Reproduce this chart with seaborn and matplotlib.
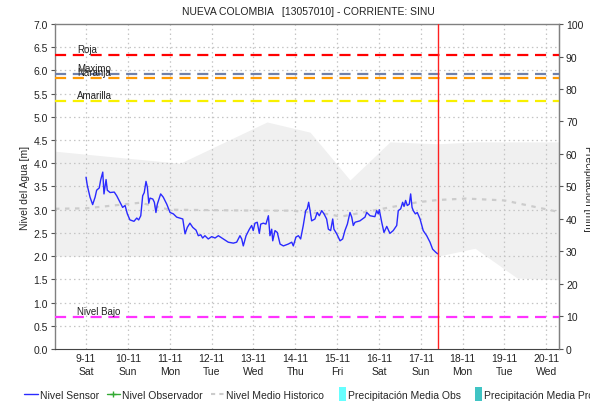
import numpy as np
import pandas as pd
import seaborn as sns
import matplotlib
matplotlib.use("Agg")
import matplotlib.pyplot as plt
from matplotlib.lines import Line2D
from matplotlib.patches import Patch, Rectangle
from matplotlib.legend_handler import HandlerPatch

TITLE = "NUEVA COLOMBIA   [13057010] - CORRIENTE: SINU"

# time axis in hours from 9-11 00:00
DAY_LABELS = ["9-11\nSat", "10-11\nSun", "11-11\nMon", "12-11\nTue", "13-11\nWed", "14-11\nThu",
              "15-11\nFri", "16-11\nSat", "17-11\nSun", "18-11\nMon", "19-11\nTue", "20-11\nWed"]

sensor_h = [0, 0.75, 2.3, 3.8, 5.2, 6.1, 7.6, 8.4, 9.6, 10.3, 11.5, 12.2, 13.8, 16.2, 17.6, 19.5,
            21.0, 22.4, 23.7, 25.2, 27.5, 29.1, 30.2, 31.4, 32.5, 33.4, 34.4, 35.2, 36.0, 36.7,
            38.3, 39.2, 40.1, 40.9, 42.8, 44.3, 46.3, 48.2, 50.1, 52.0, 55.5, 56.8, 58.1, 59.6,
            61.2, 63.1, 64.4, 65.8, 66.9, 68.2, 70.1, 72.1, 74.0, 75.9, 78.7, 81.6, 84.5, 86.4,
            88.3, 89.3, 90.2, 91.8, 93.7, 95.0, 95.9, 96.9, 98.2, 99.4, 100.2, 101.7, 103.2,
            104.6, 105.5, 106.5, 107.1, 108.4, 109.7, 111.3, 113.2, 116.0, 118.0, 118.9, 120.4,
            121.8, 123.1, 124.6, 126.0, 126.9, 127.7, 128.5, 129.4, 131.3, 132.6, 133.8, 135.2,
            136.5, 138.0, 139.0, 140.3, 141.5, 142.2, 143.8, 145.7, 147.2, 148.5, 149.9, 151.4,
            152.4, 153.3, 154.3, 157.1, 160.0, 161.0, 162.9, 165.7, 166.7, 167.6, 168.2, 169.6,
            170.9, 172.5, 174.3, 176.2, 178.2, 179.1, 180.5, 181.6, 182.4, 183.3, 184.3, 185.4,
            186.2, 187.0, 187.7, 188.9, 190.0, 191.6, 193.4, 195.4, 197.3, 198.8, 200.7, 201.7]
sensor_m = [3.70, 3.52, 3.27, 3.11, 3.27, 3.42, 3.47, 3.64, 3.81, 3.34, 3.65, 3.42, 3.37, 3.38,
            3.30, 3.16, 3.05, 3.09, 2.91, 2.78, 2.75, 2.82, 2.78, 2.87, 3.30, 3.37, 3.61, 3.48,
            3.14, 3.25, 3.23, 3.16, 2.94, 3.12, 3.34, 3.27, 3.12, 2.94, 2.91, 2.84, 2.80, 2.48,
            2.62, 2.71, 2.62, 2.56, 2.44, 2.46, 2.39, 2.44, 2.37, 2.42, 2.39, 2.44, 2.37, 2.30,
            2.28, 2.30, 2.44, 2.37, 2.22, 2.44, 2.58, 2.66, 2.55, 2.71, 2.73, 2.49, 2.69, 2.71,
            2.69, 2.87, 2.44, 2.58, 2.33, 2.55, 2.51, 2.26, 2.22, 2.26, 2.30, 2.22, 2.41, 2.44,
            2.37, 2.66, 2.98, 3.02, 3.16, 2.98, 2.76, 2.80, 2.94, 2.87, 2.98, 2.91, 2.80, 2.58,
            2.55, 2.80, 2.58, 2.48, 2.33, 2.37, 2.55, 2.69, 2.94, 2.84, 2.66, 2.73, 2.76, 2.84,
            2.94, 2.87, 2.85, 2.98, 2.91, 3.00, 2.73, 2.51, 2.64, 2.49, 2.55, 2.66, 2.98, 3.02,
            3.16, 3.07, 3.20, 3.09, 3.12, 3.34, 3.05, 2.98, 2.91, 2.94, 2.80, 2.55, 2.44, 2.30,
            2.15, 2.08, 2.05]

hist_h = [-17.8, 0, 31, 48, 100, 118, 140, 146, 170, 190, 202, 218, 240, 250, 271.3]
hist_mean = [3.02, 3.03, 3.15, 3.0, 2.98, 2.98, 2.90, 2.85, 3.02, 3.16, 3.21, 3.24, 3.20, 3.12, 2.95]

band_h = [-17.8, 53.9, 103.8, 128.5, 151.4, 174.3, 201.9, 223.1, 247.2, 271.3]
band_hi = [4.26, 4.00, 4.89, 4.67, 3.64, 4.46, 4.42, 4.46, 4.46, 4.46]
band_lo = [2.00, 2.00, 2.00, 2.00, 2.00, 2.00, 2.00, 2.17, 1.53, 1.49]

thr_names = ["Roja", "Maximo", "Naranja", "Amarilla", "Nivel Bajo"]
thr_values = [6.33, 5.92, 5.83, 5.34, 0.69]
thr_colors = ["#ff0000", "#7080a8", "#ff9900", "#f8f000", "#ff33ff"]

now_h = 201.9

sns.set_style("white")
plt.rcParams["font.family"] = ["Liberation Sans", "DejaVu Sans"]
plt.rcParams["font.size"] = 7.5

fig = plt.figure(figsize=(5.9, 4.02), dpi=100)
ax = fig.add_axes([0.0932, 0.1294, 0.8543, 0.8084])

ax.fill_between(band_h, band_lo, band_hi, color="#f0f0f0", lw=0, zorder=0)

for v in np.arange(0.5, 7.0, 0.5):
    ax.axhline(v, color="#c4c4c4", lw=0.9, ls=(0, (1.2, 2.5)), zorder=1)
for i in range(len(DAY_LABELS)):
    ax.axvline(i * 24, color="#c4c4c4", lw=0.9, ls=(0, (1.2, 2.5)), zorder=1)

sns.lineplot(x=hist_h, y=hist_mean, ax=ax, color="#cccccc", lw=1.6,
             dashes=False, zorder=2).lines[-1].set_dashes([2, 2.5])

for name, v, c in zip(thr_names, thr_values, thr_colors):
    ax.axhline(v, color=c, lw=1.6, ls=(0, (5, 3)), zorder=3)
    ax.text(-5.2, v + 0.03, name, fontsize=7, va="bottom", ha="left", color="#222222", zorder=4)

df = pd.DataFrame({"h": sensor_h, "m": sensor_m})
sns.lineplot(data=df, x="h", y="m", ax=ax, color="#2a2aff", lw=1.0, zorder=5)

ax.axvline(now_h, color="#ff2020", lw=1.0, zorder=6)

ax.set_xlim(-17.8, 271.3)
ax.set_ylim(0, 7.0)
ax.set_yticks(np.arange(0, 7.01, 0.5))
ax.set_yticklabels([f"{v:.1f}" for v in np.arange(0, 7.01, 0.5)])
ax.set_xticks([i * 24 for i in range(len(DAY_LABELS))])
ax.set_xticklabels(DAY_LABELS, linespacing=1.3)
ax.set_xlabel("")
ax.set_ylabel("Nivel del Agua [m]", labelpad=2.5)
ax.tick_params(axis="both", length=3, width=0.8, color="#555555", pad=2, labelcolor="#222222")
ax.tick_params(axis="x", length=0, pad=3)
for s in ["left", "top", "right"]:
    ax.spines[s].set_color("#808080")
    ax.spines[s].set_linewidth(1.0)
ax.spines["bottom"].set_color("#444444")
ax.spines["bottom"].set_linestyle((0, (1, 1)))

ax2 = ax.twinx()
ax2.set_ylim(0, 100)
ax2.set_yticks(range(0, 101, 10))
ax2.tick_params(axis="y", length=3, width=0.8, color="#555555", pad=2, labelcolor="#222222")
for s in ax2.spines.values():
    s.set_visible(False)
ax2.spines["right"].set_visible(True)
ax2.spines["right"].set_color("#808080")
fig.text(0.988, 0.53, "Precipitación [mm]", rotation=270, ha="left", va="center", fontsize=7.5)

fig.suptitle(TITLE, x=0.523, y=0.982, fontsize=7.5, color="#222222")


def narrow_patch(legend, orig_handle, xdescent, ydescent, width, height, fontsize):
    return Rectangle((width - xdescent - 5, -ydescent - 2), 5, height + 4)


handles = [
    Line2D([], [], color="#2a2aff", lw=1.0),
    Line2D([], [], color="#33aa33", lw=1.0, marker="+", markersize=4),
    Line2D([], [], color="#cccccc", lw=1.5, dashes=[2, 2]),
    Patch(facecolor="#66ffff", edgecolor="none"),
    Patch(facecolor="#40c4c4", edgecolor="none"),
]
labels = ["Nivel Sensor", "Nivel Observador", "Nivel Medio Historico",
          "Precipitación Media Obs", "Precipitación Media Pronosticada"]
hmap = {handles[3]: HandlerPatch(patch_func=narrow_patch),
        handles[4]: HandlerPatch(patch_func=narrow_patch)}
fig.legend(handles, labels, loc="lower left", bbox_to_anchor=(0.025, -0.02), ncol=5,
           frameon=False, fontsize=7.5, handlelength=1.3, handletextpad=0.2,
           columnspacing=0.75, handleheight=1.0, handler_map=hmap)

fig.savefig("out.png", dpi=100)
